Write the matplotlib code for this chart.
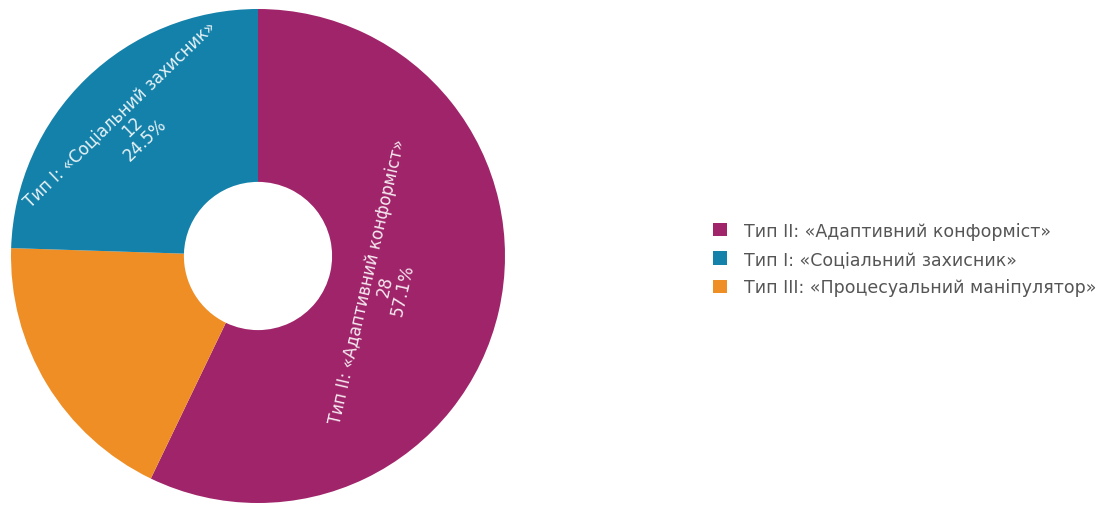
import numpy as np
import matplotlib.pyplot as plt

# data
labels = ["Тип II: «Адаптивний конформіст»",
          "Тип III: «Процесуальний маніпулятор»",
          "Тип I: «Соціальний захисник»"]
counts = [28, 9, 12]
colors = ["#A0246A", "#EE8E25", "#1381AA"]
show_label = [True, False, True]
label_r = [0.53, 0.0, 0.73]

fig = plt.figure(figsize=(11.05, 5.06), dpi=100)
ax = fig.add_axes([11 / 1105, 2 / 506, 494 / 1105, 494 / 506])

wedges, _ = ax.pie(counts, colors=colors, startangle=90, counterclock=False,
                   radius=1, wedgeprops=dict(width=0.7, linewidth=0))
ax.set_xlim(-1, 1)
ax.set_ylim(-1, 1)
ax.set_aspect("equal")
ax.axis("off")

total = sum(counts)
for w, lab, n, show, r in zip(wedges, labels, counts, show_label, label_r):
    if not show:
        continue
    mid = np.deg2rad((w.theta1 + w.theta2) / 2)
    # tangential text, kept readable
    ang = (np.rad2deg(mid) - 90 + 90) % 180 - 90
    txt = f"{lab}\n{n}\n{100 * n / total:.1f}%"
    ax.text(r * np.cos(mid), r * np.sin(mid), txt, rotation=ang,
            rotation_mode="anchor", ha="center", va="center",
            fontsize=12, color="white", alpha=0.9, linespacing=1.0,
            multialignment="center")

# legend order: II, I, III
order = [0, 2, 1]
leg = fig.legend([wedges[i] for i in order], [labels[i] for i in order],
                 loc="upper left", bbox_to_anchor=(697 / 1105, 1 - 207 / 506),
                 frameon=False, fontsize=12.5, handlelength=0.8, handleheight=0.8,
                 handletextpad=1.0, labelspacing=0.6)
for t in leg.get_texts():
    t.set_color("#555555")

fig.savefig("out.png", dpi=100)
